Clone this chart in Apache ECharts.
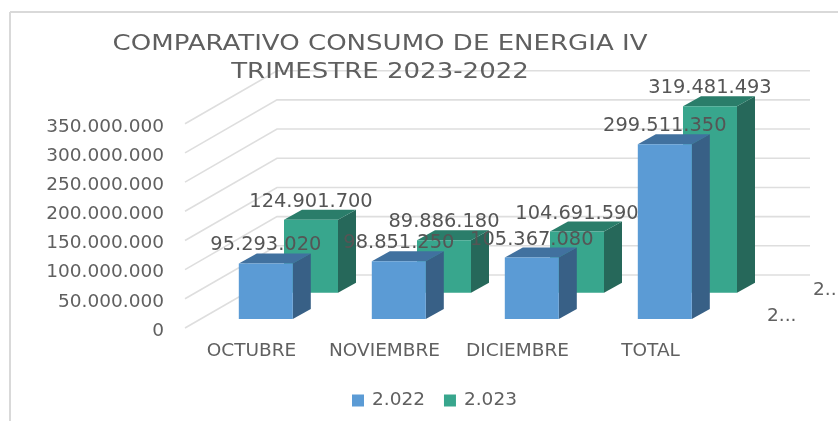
<!DOCTYPE html>
<html><head><meta charset="utf-8">
<style>html,body{margin:0;padding:0;background:#fff}#c{width:838px;height:421px}</style>
<script src="https://cdn.jsdelivr.net/npm/echarts@6/dist/echarts.min.js"></script>
</head><body><div id="c"></div>
<script>
const categories = ['OCTUBRE','NOVIEMBRE','DICIEMBRE','TOTAL'];
const values2022 = [95293020, 98851250, 105367080, 299511350];
const values2023 = [124901700, 89886180, 104691590, 319481493];
const yTicks = [0,50000000,100000000,150000000,200000000,250000000,300000000,350000000];
const depthLabels = ['2...','2...'];
const titleLines = ['COMPARATIVO CONSUMO DE ENERGIA IV','TRIMESTRE 2023-2022'];

const FONT = '"DejaVu Sans", sans-serif';
const TXT = '#606060';
const fmt = v => String(v).replace(/\B(?=(\d{3})+(?!\d))/g,'.');
const WALL = {dx:92, dy:-53, w:533};

function wallItem(params, api){
  const cs = params.coordSys;
  const y = api.coord([0, api.value(1)])[1];
  const x = cs.x;
  return {type:'polyline', silent:true, shape:{points:[[x,y],[x+WALL.dx,y+WALL.dy],[x+WALL.dx+WALL.w,y+WALL.dy]]},
    style:{fill:null, stroke:'#dedede', lineWidth:1.6}};
}
function barItem(shift, c){
  return function(params, api){
    const top = api.coord([api.value(0), api.value(1)]);
    const base = api.coord([api.value(0), 0]);
    const w = api.size([1,0])[0]*0.406;
    const l = top[0]+shift[0]-w/2, r = l+w, t = top[1]+shift[1], b = base[1]+shift[1];
    const ox = 18, oy = -10;
    return {type:'group', children:[
      {type:'polygon', shape:{points:[[r,t],[r+ox,t+oy],[r+ox,b+oy],[r,b]]}, style:{fill:c.side}},
      {type:'polygon', shape:{points:[[l,t],[l+ox,t+oy],[r+ox,t+oy],[r,t]]}, style:{fill:c.top}},
      {type:'rect', shape:{x:l,y:t,width:w,height:b-t}, style:{fill:c.front}},
      {type:'text', z2:50, style:{x:(l+r)/2, y:t-18, text:fmt(api.value(1)), fill:'#555555',
        font:'19.4px '+FONT, align:'center', verticalAlign:'middle'}}
    ]};
  };
}
const BLUE = {front:'#5B9BD5', side:'#386086', top:'#41719F'};
const GREEN = {front:'#38A68D', side:'#26685A', top:'#2A7D6A'};

const chart = echarts.init(document.getElementById('c'), null, {renderer:'canvas'});
chart.setOption({
  animation:false,
  backgroundColor:'#fff',
  grid:{left:185, right:121, top:123.7, bottom:93, containLabel:false},
  xAxis:{type:'category', data:categories, axisLine:{show:false}, axisTick:{show:false},
    axisLabel:{interval:0, color:TXT, fontSize:18.5, fontFamily:FONT, margin:14}},
  yAxis:{type:'value', min:0, max:350000000, interval:50000000, splitLine:{show:false}, axisLine:{show:false}, axisTick:{show:false},
    axisLabel:{color:TXT, fontSize:18.5, fontFamily:FONT, margin:21, formatter:v=>'{a|'+fmt(v)+'}',
      rich:{a:{color:TXT, fontSize:18.5, fontFamily:FONT, padding:[6,0,0,0]}}}},
  legend:{data:['2.022','2.023'], left:347, top:386, icon:'rect', itemWidth:12, itemHeight:12, itemGap:19,
    textStyle:{color:TXT, fontSize:18.5, fontFamily:FONT, padding:[0,0,0,3]}},
  series:[
    {type:'custom', name:'walls', z:1, silent:true, clip:false, renderItem:wallItem, encode:{x:0,y:1},
      data:yTicks.map(v=>[0,v])},
    {type:'custom', name:'2.023', z:2, clip:false, renderItem:barItem([59.5,-35.3],GREEN), itemStyle:{color:GREEN.front}, encode:{x:0,y:1},
      data:values2023.map((v,i)=>[i,v])},
    {type:'custom', name:'2.022', z:3, clip:false, renderItem:barItem([14.3,-9],BLUE), itemStyle:{color:BLUE.front}, encode:{x:0,y:1},
      data:values2022.map((v,i)=>[i,v])}
  ],
  graphic:[
    {type:'line', shape:{x1:10,y1:12,x2:838,y2:12}, style:{stroke:'#d9d9d9',lineWidth:2}, silent:true},
    {type:'line', shape:{x1:10,y1:12,x2:10,y2:421}, style:{stroke:'#d9d9d9',lineWidth:2}, silent:true},
    ...titleLines.map((t,i)=>({type:'text', x:380, y:44+i*28.5, scaleX:1.2, scaleY:1, z:20, silent:true,
      style:{text:t, fill:'#5f5f5f', font:'21.7px '+FONT, align:'center', verticalAlign:'middle'}})),
    {type:'text', x:767, y:316, z:20, silent:true, style:{text:depthLabels[0], fill:TXT, font:'18.5px '+FONT, verticalAlign:'middle'}},
    {type:'text', x:813, y:290, z:20, silent:true, style:{text:depthLabels[1], fill:TXT, font:'18.5px '+FONT, verticalAlign:'middle'}}
  ]
});
</script></body></html>
